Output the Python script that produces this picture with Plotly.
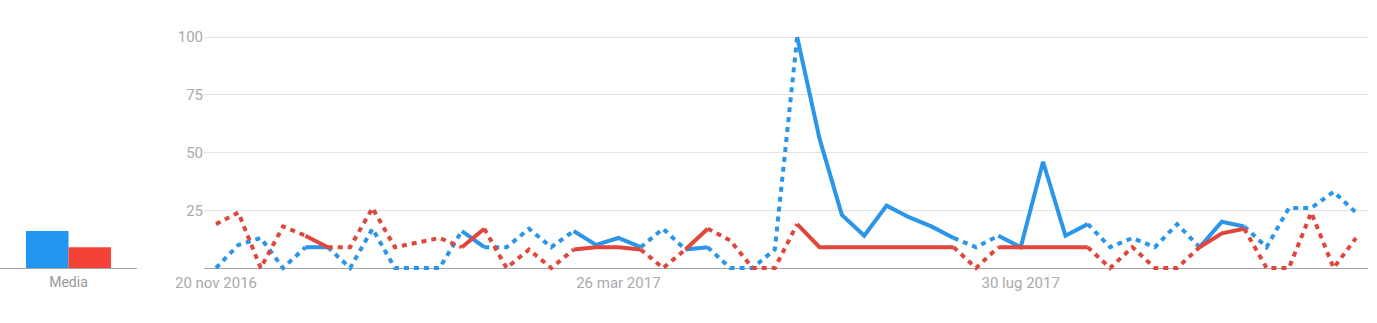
import plotly.graph_objects as go
import pandas as pd

# ---------------- data ----------------
dates = pd.date_range("2016-11-20", periods=52, freq="7D")
blue_values = [0, 10, 13, 0, 9, 9, 0, 17, 0, 0, 0, 16, 9, 9, 17, 9, 16, 10, 13, 9,
               17, 8, 9, 0, 0, 8, 100, 56, 23, 14, 27, 22, 18, 13, 9, 14, 9, 46, 14, 19,
               9, 13, 9, 19, 9, 20, 18, 9, 26, 26, 33, 24]
red_values = [19, 24, 0, 18, 14, 9, 9, 26, 9, 11, 13, 9, 17, 0, 8, 0, 8, 9, 9, 8,
              0, 8, 17, 12, 0, 0, 19, 9, 9, 9, 9, 9, 9, 9, 0, 9, 9, 9, 9, 9,
              0, 9, 0, 0, 9, 15, 17, 0, 0, 24, 0, 13]
# week index ranges drawn as complete (solid) data; the rest is partial (dotted)
complete_ranges = [(4, 5), (11, 12), (16, 19), (21, 22), (26, 33), (35, 39), (44, 46)]
average_label = ["Media"]
blue_average = [16]
red_average = [9]
y_ticks = [25, 50, 75, 100]
x_tick_dates = ["2016-11-20", "2017-03-26", "2017-07-30"]
x_tick_text = ["20 nov 2016", "26 mar 2017", "30 lug 2017"]

BLUE = "#2b95e9"
RED = "#e0473c"
W, H = 1377, 323

# ---------------- runs ----------------
n = len(blue_values)
runs = []
start = 0
for a, b in complete_ranges:
    if a > start:
        runs.append((start, a, "dot"))
    runs.append((a, b, "solid"))
    start = b
if start < n - 1:
    runs.append((start, n - 1, "dot"))

fig = go.Figure()
for vals, col in [(blue_values, BLUE), (red_values, RED)]:
    for a, b, style in runs:
        fig.add_trace(go.Scatter(
            x=list(dates[a:b + 1]), y=vals[a:b + 1], mode="lines",
            line=dict(color=col, width=4,
                      dash="solid" if style == "solid" else "5px,5px"),
            showlegend=False, hoverinfo="skip", xaxis="x", yaxis="y"))

fig.add_trace(go.Bar(x=average_label, y=blue_average, marker=dict(color="#2196f3", line_width=0),
                     xaxis="x2", yaxis="y2", showlegend=False))
fig.add_trace(go.Bar(x=average_label, y=red_average, marker=dict(color="#f44336", line_width=0),
                     xaxis="x2", yaxis="y2", showlegend=False))

# geometry (pixels)
plot_left, plot_right = 204, 1368
y0_px, y100_px = 268, 37
ppu = (y0_px - y100_px) / 100.0
plot_top, plot_bottom = 18, 272
ymin = -(plot_bottom - y0_px) / ppu
ymax = 100 + (y100_px - plot_top) / ppu

first_px, last_px = 216, 1356
day_px = (last_px - first_px) / ((dates[-1] - dates[0]).days)
xmin = dates[0] - pd.Timedelta(days=(first_px - plot_left) / day_px)
xmax = dates[-1] + pd.Timedelta(days=(plot_right - last_px) / day_px)

tick_font = dict(family="Roboto", size=15, color="#aaaaaa")

fig.update_layout(
    template="none",
    width=W, height=H,
    margin=dict(l=0, r=0, t=plot_top, b=H - plot_bottom, pad=0),
    paper_bgcolor="white", plot_bgcolor="white",
    font=dict(family="Roboto"),
    showlegend=False,
    barmode="group", bargap=0.38, bargroupgap=0,
    xaxis=dict(domain=[plot_left / W, plot_right / W], type="date", automargin=False,
               range=[xmin, xmax], showgrid=False, zeroline=False, showline=False,
               tickvals=list(pd.to_datetime(x_tick_dates)), ticktext=x_tick_text,
               tickfont=tick_font, ticks="", anchor="y"),
    yaxis=dict(range=[ymin, ymax], tickvals=y_ticks, showgrid=True, automargin=False,
               gridcolor="#e3e3e3", gridwidth=1, zeroline=True, zerolinecolor="#a6a6a6",
               zerolinewidth=1, showline=False, tickfont=tick_font, ticks="",
               anchor="x"),
    xaxis2=dict(domain=[0, 137 / W], showgrid=False, zeroline=False, showline=False,
                automargin=False,
                tickfont=dict(family="Roboto", size=14, color="#999999"), ticks="",
                anchor="y2"),
    yaxis2=dict(range=[ymin, ymax], showgrid=False, zeroline=True, zerolinecolor="#a6a6a6",
                automargin=False,
                zerolinewidth=1, showticklabels=False, anchor="x2"),
)

fig.write_html("out.html")
